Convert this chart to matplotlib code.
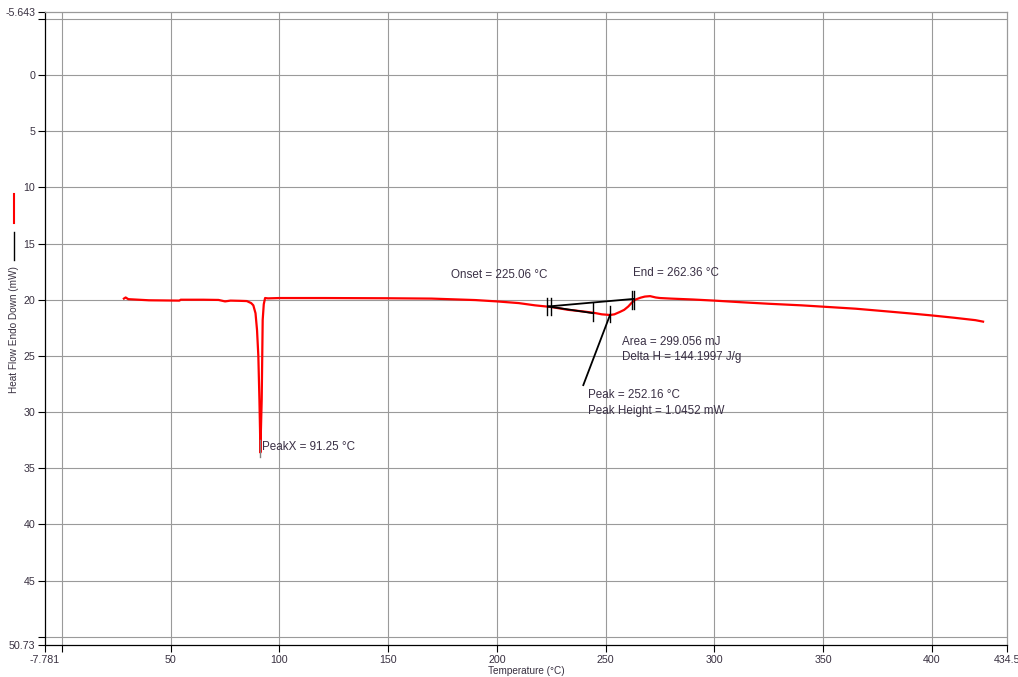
import numpy as np
import matplotlib
matplotlib.use('Agg')
import matplotlib.pyplot as plt
from matplotlib.lines import Line2D

plt.rcParams['font.family'] = ['Liberation Sans', 'DejaVu Sans']

# DSC trace (temperature in degC, heat flow in mW, endo down)
temp = [28.5, 29.3, 30.5, 40, 54.0, 54.6, 65, 72, 75, 77.5, 82, 85, 87, 88,
        89, 89.7, 90.3, 90.8, 91.07, 91.25, 91.5, 91.85, 92.3, 92.8, 93.4,
        94.75, 100, 120, 150, 170, 190, 200, 210, 217.5, 225, 232.7, 240,
        245, 248.2, 252, 254, 256.6, 258.5, 260.4, 261.8, 263.5, 266, 268,
        270.4, 273, 275, 280, 290, 300, 312, 325, 340, 350, 365, 380, 390,
        400, 410, 420, 423.5]
heat_flow = [19.9, 19.8, 19.95, 20.05, 20.08, 20.0, 20.0, 20.02, 20.15, 20.08,
             20.1, 20.12, 20.3, 20.5, 21.2, 22.7, 25.0, 28.9, 31.5, 33.6, 31.5,
             28.9, 21.8, 20.4, 19.85, 19.88, 19.85, 19.85, 19.87, 19.9, 20.03,
             20.15, 20.3, 20.5, 20.65, 20.9, 21.05, 21.18, 21.3, 21.36, 21.3,
             21.08, 20.9, 20.6, 20.3, 20.0, 19.82, 19.72, 19.68, 19.8, 19.85,
             19.9, 19.98, 20.08, 20.22, 20.36, 20.5, 20.62, 20.8, 21.05, 21.22,
             21.4, 21.6, 21.82, 21.95]

# analysis results
onset_t = 225.06
end_t = 262.36
peak_t = 252.16
peakx_t = 91.25
area_mj = 299.056
delta_h = 144.1997
peak_height = 1.0452

# construction lines of the transition analysis
baseline_t = [223.6, 262.7]
baseline_hf = [20.6, 19.93]
tangent_t = [223.6, 244.3]
tangent_hf = [20.6, 21.2]
leader_t = [252.0, 239.7]
leader_hf = [21.35, 27.6]
# short limit markers: (temperature, top, bottom)
markers = [(222.8, 19.85, 21.35), (225.06, 19.85, 21.35), (244.3, 20.3, 21.9),
           (252.16, 20.55, 22.0), (262.0, 19.2, 20.8), (263.0, 19.2, 20.8)]

xmin, xmax = -7.781, 434.5
ymin, ymax = -5.643, 50.73

fig = plt.figure(figsize=(10.18, 6.77), dpi=100)
ax = fig.add_axes([45/1018, 1 - 645/677, 962/1018, 633.4/677])

# grid lines
for gx in np.arange(0, 401, 50):
    ax.axvline(gx, color='#9a9a9a', lw=0.8, zorder=1)
for gy in np.arange(-5, 51, 5):
    ax.axhline(gy, color='#9a9a9a', lw=0.8, zorder=1)

ax.plot(temp, heat_flow, color='#ff0000', lw=1.6, zorder=3)

# analysis lines
ax.plot(baseline_t, baseline_hf, color='k', lw=1.3, zorder=4)
ax.plot(tangent_t, tangent_hf, color='k', lw=1.3, zorder=4)
ax.plot(leader_t, leader_hf, color='k', lw=1.3, zorder=4)
for t, y0, y1 in markers:
    ax.plot([t, t], [y0, y1], color='k', lw=1.0, zorder=4)
ax.plot([peakx_t, peakx_t], [32.5, 34.0], color='#808080', lw=1.0, zorder=4)

tc = '#3a3045'
fs = 8.4
ax.text(178.9, 17.8, 'Onset = %.2f \u00b0C' % onset_t, color=tc, fontsize=fs,
        va='center', ha='left')
ax.text(262.6, 17.6, 'End = %.2f \u00b0C' % end_t, color=tc, fontsize=fs,
        va='center', ha='left')
ax.text(257.5, 23.8, 'Area = %.3f mJ' % area_mj, color=tc, fontsize=fs,
        va='center', ha='left')
ax.text(257.5, 25.1, 'Delta H = %.4f J/g' % delta_h, color=tc, fontsize=fs,
        va='center', ha='left')
ax.text(241.9, 28.5, 'Peak = %.2f \u00b0C' % peak_t, color=tc, fontsize=fs,
        va='center', ha='left')
ax.text(241.9, 29.9, 'Peak Height = %.4f mW' % peak_height, color=tc,
        fontsize=fs, va='center', ha='left')
ax.text(92.0, 33.1, 'PeakX = %.2f \u00b0C' % peakx_t, color=tc, fontsize=fs,
        va='center', ha='left')

ax.set_xlim(xmin, xmax)
ax.set_ylim(ymax, ymin)

xmajor = [xmin] + list(range(50, 401, 50)) + [xmax]
ymajor = [ymin] + list(range(0, 46, 5)) + [ymax]
ax.set_xticks(xmajor)
ax.set_xticklabels(['-7.781'] + [str(v) for v in range(50, 401, 50)] + ['434.5'])
ax.set_yticks(ymajor)
ax.set_yticklabels(['-5.643'] + [str(v) for v in range(0, 46, 5)] + ['50.73'])
# unlabelled ticks at 0 (x) and -5 / 50 (y)
ax.set_xticks([0], minor=True)
ax.set_yticks([-5, 50], minor=True)
ax.tick_params(which='both', direction='out', length=5, width=0.8,
               colors='k', labelcolor='#383040', labelsize=7.7, pad=2)

ax.spines['left'].set_color('k')
ax.spines['bottom'].set_color('k')
ax.spines['top'].set_color('#9a9a9a')
ax.spines['right'].set_color('#9a9a9a')
for s in ax.spines.values():
    s.set_linewidth(0.9)

fig.text(526/1018, 1 - 671/677, 'Temperature (\u00b0C)', fontsize=7.2,
         color='#383040', ha='center', va='center')
fig.text(14.5/1018, 1 - 330/677, 'Heat Flow Endo Down (mW)', fontsize=7.2,
         color='#383040', ha='center', va='center', rotation=90)
fig.add_artist(Line2D([14/1018, 14/1018], [1 - 194/677, 1 - 223/677],
                      color='#ff0000', lw=1.5))
fig.add_artist(Line2D([14/1018, 14/1018], [1 - 232/677, 1 - 260/677],
                      color='k', lw=1.0))

fig.savefig('out.png', dpi=100)
